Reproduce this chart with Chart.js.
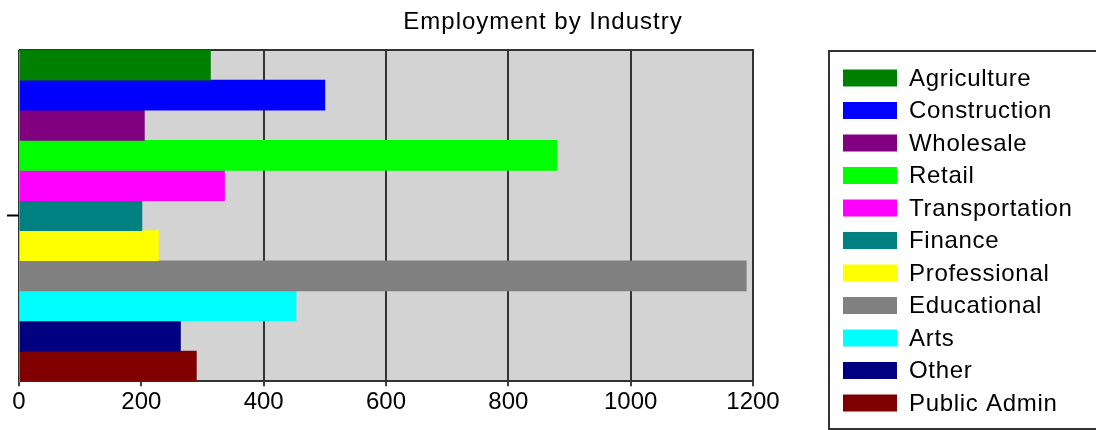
<!DOCTYPE html>
<html>
<head>
<meta charset="utf-8">
<title>Employment by Industry</title>
<script src="https://cdn.jsdelivr.net/npm/chart.js@4.4.1/dist/chart.umd.min.js"></script>
<style>
  html, body { margin: 0; padding: 0; background: #fff; }
</style>
</head>
<body>
<canvas id="myChart" width="1096" height="430"></canvas>
<script>
// Values
const chartTitle = 'Employment by Industry'
const categories = ['']
const industries = [
  'Agriculture', 'Construction', 'Wholesale', 'Retail', 'Transportation',
  'Finance', 'Professional', 'Educational', 'Arts', 'Other', 'Public Admin',
]
const employment = [313, 500, 205, 879, 336, 201, 228, 1189, 453, 264, 290]
const industryColors = [
  '#008000', '#0000ff', '#800080', '#00ff00', '#ff00ff',
  '#008080', '#ffff00', '#808080', '#00ffff', '#000080', '#800000',
]
const xTicks = [0, 200, 400, 600, 800, 1000, 1200]

const fontFamily = "'Liberation Sans', Arial, sans-serif"
Chart.defaults.font.family = fontFamily
Chart.defaults.font.size = 24
Chart.defaults.color = '#000'

// gray plot background
const plotBackground = {
  id: 'plotBackground',
  beforeDraw(chart) {
    const { ctx, chartArea: a } = chart
    ctx.save()
    ctx.fillStyle = '#d3d3d3'
    ctx.fillRect(a.left, a.top, a.right - a.left, a.bottom - a.top)
    ctx.restore()
  },
  // top edge of the frame, under the bars
  beforeDatasetsDraw(chart) {
    const { ctx, chartArea: a } = chart
    ctx.save()
    ctx.strokeStyle = '#333'
    ctx.lineWidth = 2
    ctx.beginPath()
    ctx.moveTo(a.left, a.top)
    ctx.lineTo(a.right + 1, a.top)
    ctx.stroke()
    ctx.restore()
  },
}

// title centred on the whole canvas and a boxed legend on the right
const titleAndLegend = {
  id: 'titleAndLegend',
  afterDraw(chart) {
    const { ctx } = chart
    ctx.save()
    ctx.fillStyle = '#000'
    ctx.textBaseline = 'middle'
    ctx.textAlign = 'center'
    ctx.font = `24px ${fontFamily}`
    ctx.letterSpacing = '1px'
    ctx.fillText(chartTitle, 543, 22)

    ctx.strokeStyle = '#333'
    ctx.lineWidth = 2
    ctx.strokeRect(829, 51, 300, 378)

    ctx.textAlign = 'left'
    ctx.letterSpacing = '0.7px'
    chart.data.datasets.forEach((ds, i) => {
      const cy = 78 + i * 32.5
      ctx.fillStyle = ds.backgroundColor
      ctx.fillRect(843, cy - 8.5, 54, 17)
      ctx.fillStyle = '#000'
      ctx.fillText(ds.label, 909, cy + 1)
    })
    ctx.restore()
  },
}

const ctx = document.getElementById('myChart')

new Chart(ctx, {
  type: 'bar',
  data: {
    labels: categories,
    datasets: industries.map((name, i) => ({
      label: name,
      data: [employment[i]],
      backgroundColor: industryColors[i],
      borderWidth: 0,
      barPercentage: 1,
      categoryPercentage: 1,
    })),
  },
  options: {
    indexAxis: 'y',
    responsive: false,
    animation: false,
    layout: {
      padding: { left: 7, right: 343, top: 50, bottom: 11 },
    },
    plugins: {
      legend: { display: false },
      title: { display: false },
      tooltip: { enabled: false },
    },
    scales: {
      x: {
        min: 0,
        max: 1200,
        afterBuildTicks: (axis) => {
          axis.ticks = xTicks.map((v) => ({ value: v }))
        },
        ticks: {
          padding: 2,
          maxRotation: 0,
          color: '#000',
          callback: (value) => String(value),
        },
        grid: {
          color: '#333',
          lineWidth: 2,
          tickLength: 5,
          tickColor: '#000',
          tickWidth: 1.5,
        },
        border: { color: '#333', width: 2 },
      },
      y: {
        grid: {
          offset: false,
          drawOnChartArea: false,
          tickLength: 12,
          tickColor: '#000',
          tickWidth: 2,
        },
        ticks: { padding: 0 },
        border: { color: '#999', width: 1 },
      },
    },
  },
  plugins: [plotBackground, titleAndLegend],
})
</script>
</body>
</html>
